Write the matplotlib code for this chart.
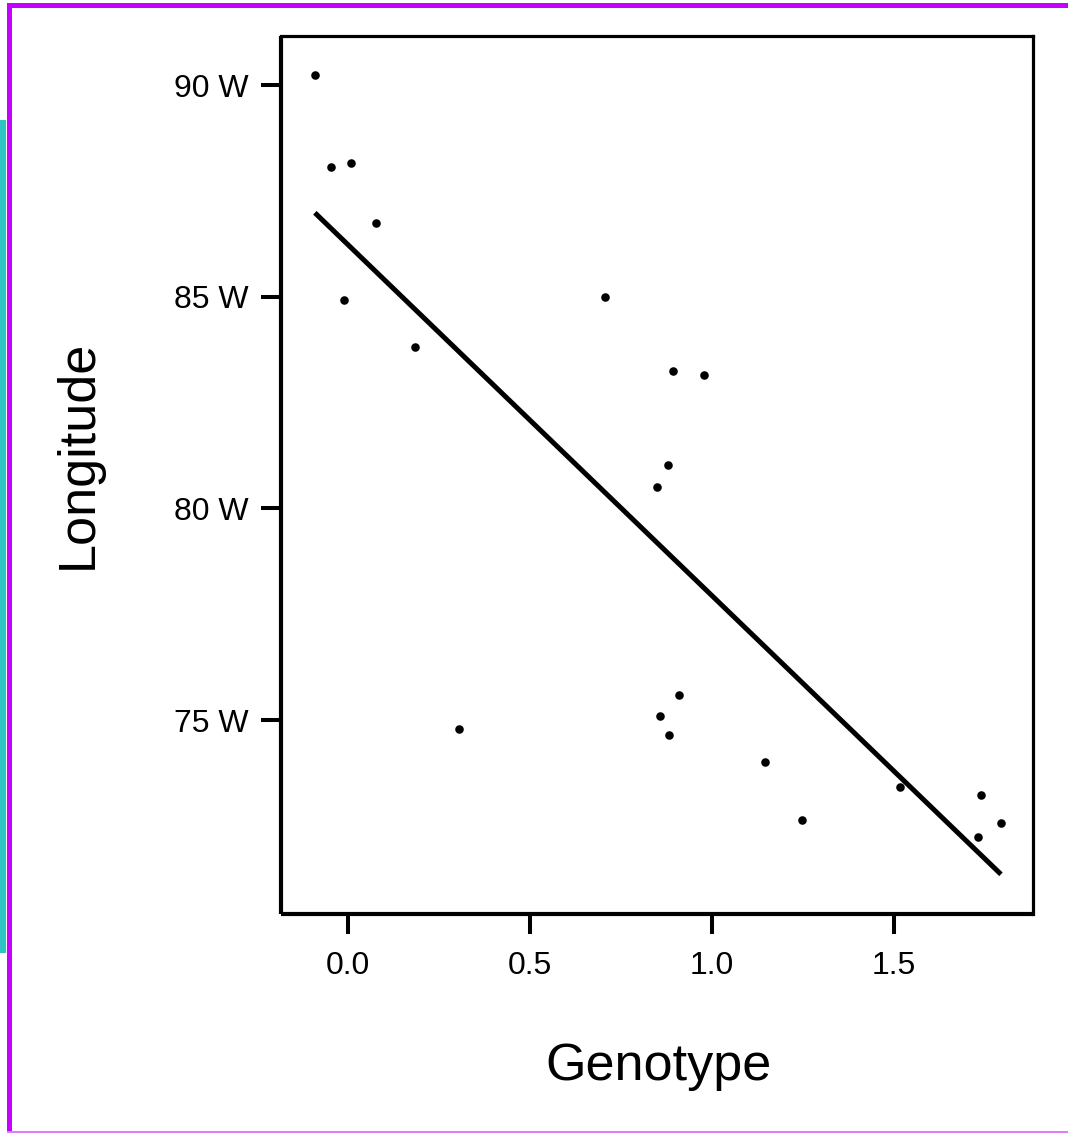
import matplotlib
matplotlib.use("Agg")
import matplotlib.pyplot as plt
from matplotlib.patches import Rectangle
import numpy as np

# Genotype score and sampling longitude (degrees W) for each population
genotype = [-0.091, -0.047, 0.008, 0.077, -0.011, 0.184, 0.706, 0.893, 0.978,
            0.879, 0.849, 0.305, 0.909, 0.857, 0.882, 1.146, 1.247, 1.516,
            1.739, 1.794, 1.731]
longitude = [90.24, 88.06, 88.16, 86.74, 84.92, 83.81, 84.99, 83.25, 83.15,
             81.03, 80.51, 74.79, 75.59, 75.10, 74.65, 74.01, 72.64, 73.42,
             73.23, 72.57, 72.24]

# Linear regression of longitude on genotype
fit_intercept = 86.23
fit_slope = -8.29

y_ticks = [75, 80, 85, 90]
y_tick_labels = ["75 W", "80 W", "85 W", "90 W"]
x_ticks = [0.0, 0.5, 1.0, 1.5]
x_tick_labels = ["0.0", "0.5", "1.0", "1.5"]

plt.rcParams["font.family"] = ["Liberation Sans", "DejaVu Sans"]

W, H = 1068, 1133
fig = plt.figure(figsize=(W / 100, H / 100), dpi=100)

# Page frame
fig.patches.append(Rectangle((0, 0), 6 / W, 1, transform=fig.transFigure,
                             facecolor="#2fc3c6", edgecolor="none", zorder=0))
fig.patches.append(Rectangle((0, 0), 6 / W, 180 / H, transform=fig.transFigure,
                             facecolor="white", edgecolor="none", zorder=0))
fig.patches.append(Rectangle((0, 1 - 120 / H), 6 / W, 120 / H, transform=fig.transFigure,
                             facecolor="white", edgecolor="none", zorder=0))
fig.patches.append(Rectangle((7 / W, 0), 5 / W, 1 - 3 / H, transform=fig.transFigure,
                             facecolor="#c400ff", edgecolor="none", zorder=1))
fig.patches.append(Rectangle((7 / W, 1 - 8 / H), 1, 5 / H, transform=fig.transFigure,
                             facecolor="#c400ff", edgecolor="none", zorder=1))
fig.patches.append(Rectangle((7 / W, 0), 1, 2 / H, transform=fig.transFigure,
                             facecolor="#e07aff", edgecolor="none", zorder=1))

ax = fig.add_axes([281 / W, 1 - 914 / H, (1033 - 281) / W, (914 - 36) / H])

ax.scatter(genotype, longitude, s=38, color="black", zorder=3, linewidths=0)

xs = np.array([min(genotype), max(genotype)])
ax.plot(xs, fit_intercept + fit_slope * xs, color="black", lw=3.6,
        solid_capstyle="butt", zorder=2)

ax.set_xlim(-0.184, 1.882)
ax.set_ylim(70.42, 91.16)

ax.set_xticks(x_ticks)
ax.set_xticklabels(x_tick_labels)
ax.set_yticks(y_ticks)
ax.set_yticklabels(y_tick_labels)

ax.tick_params(axis="both", direction="out", length=14.5, width=2.9,
               labelsize=23, colors="black")
ax.tick_params(axis="y", pad=9)
ax.tick_params(axis="x", pad=12)

for side in ("left", "bottom"):
    ax.spines[side].set_linewidth(3.0)
    ax.spines[side].set_capstyle("butt")
for side in ("top", "right"):
    ax.spines[side].set_linewidth(2.3)

ax.set_xlabel("Genotype", fontsize=37.5)
ax.set_ylabel("Longitude", fontsize=37.5)
ax.xaxis.set_label_coords(0.502, -0.146)
ax.yaxis.set_label_coords(-0.237, 0.523)

fig.savefig("out.png", dpi=100, facecolor="white")
